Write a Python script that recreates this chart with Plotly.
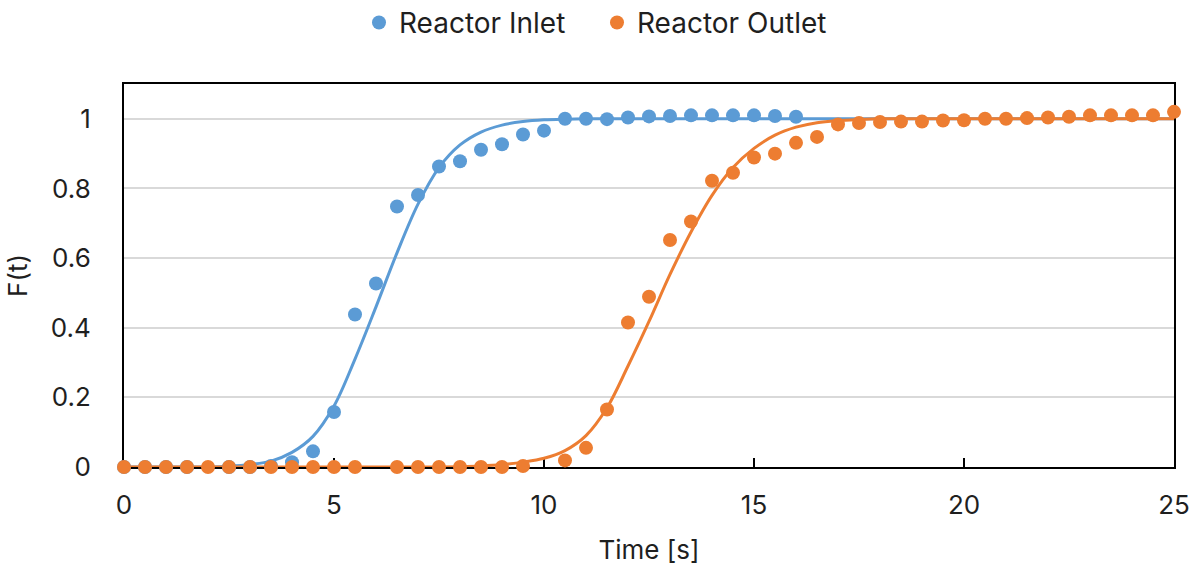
import plotly.graph_objects as go

# Measured tracer response, sampled every 0.5 s
t_inlet = [i * 0.5 for i in range(33)]          # 0 .. 16 s
f_inlet = [0, 0, 0, 0, -0.005, 0, 0, 0.003, 0.014, 0.045,
           0.158, 0.438, 0.527, 0.748, 0.781, 0.863, 0.878, 0.911, 0.927, 0.955,
           0.966, 1.0, 1.0, 0.999, 1.004, 1.007, 1.008, 1.01, 1.01, 1.01,
           1.01, 1.008, 1.006]

t_outlet = [i * 0.5 for i in range(51)]         # 0 .. 25 s
f_outlet = [0, 0, 0, 0, 0, 0, 0, 0, 0, 0,
            0, 0, None, 0, 0, 0, 0, 0, 0, 0.003,
            -0.002, 0.019, 0.055, 0.165, 0.415, 0.489, 0.652, 0.705, 0.822, 0.845,
            0.889, 0.9, 0.931, 0.948, 0.984, 0.988, 0.991, 0.992, 0.992, 0.995,
            0.996, 1.0, 1.0, 1.002, 1.004, 1.006, 1.01, 1.01, 1.01, 1.01,
            1.02]

# Fitted cumulative distribution curves
t_fit = [i * 0.5 for i in range(51)]
fit_inlet = [0, 0, 0, 0, 0, 0.002, 0.007, 0.017, 0.042, 0.088,
             0.175, 0.31, 0.46, 0.615, 0.755, 0.86, 0.925, 0.962, 0.982, 0.992,
             0.997, 0.999, 1.0, 1.0, 1.0, 1.0, 1.0, 1.0, 1.0, 1.0,
             1.0, 1.0, 1.0, 1.0, 1.0, 1.0, 1.0, 1.0, 1.0, 1.0,
             1.0, 1.0, 1.0, 1.0, 1.0, 1.0, 1.0, 1.0, 1.0, 1.0,
             1.0]
fit_outlet = [0, 0, 0, 0, 0, 0, 0, 0, 0, 0,
              0, 0, 0, 0, 0, 0, 0.001, 0.003, 0.007, 0.014,
              0.025, 0.047, 0.09, 0.17, 0.29, 0.418, 0.553, 0.675, 0.78, 0.86,
              0.915, 0.953, 0.976, 0.989, 0.995, 0.998, 1.0, 1.0, 1.0, 1.0,
              1.0, 1.0, 1.0, 1.0, 1.0, 1.0, 1.0, 1.0, 1.0, 1.0,
              1.0]

x_ticks = [0, 5, 10, 15, 20, 25]
y_ticks = [0, 0.2, 0.4, 0.6, 0.8, 1]

BLUE = "#5B9BD5"
ORANGE = "#ED7D31"
FONT = "Inter"
TEXT = "#1f1f1f"

fig = go.Figure()
fig.add_trace(go.Scatter(x=t_fit, y=fit_inlet, mode="lines", line=dict(color=BLUE, width=3, shape="spline"),
                         showlegend=False, hoverinfo="skip", cliponaxis=False))
fig.add_trace(go.Scatter(x=t_fit, y=fit_outlet, mode="lines", line=dict(color=ORANGE, width=3, shape="spline"),
                         showlegend=False, hoverinfo="skip", cliponaxis=False))
fig.add_trace(go.Scatter(x=t_inlet, y=f_inlet, mode="markers", name="Reactor Inlet",
                         marker=dict(color=BLUE, size=14), cliponaxis=False))
fig.add_trace(go.Scatter(x=t_outlet, y=f_outlet, mode="markers", name="Reactor Outlet",
                         marker=dict(color=ORANGE, size=14), cliponaxis=False))

fig.update_layout(
    width=1194, height=569,
    margin=dict(l=124, r=20, t=84, b=102),
    paper_bgcolor="white", plot_bgcolor="white",
    font=dict(family=FONT, size=26, color=TEXT),
    legend=dict(orientation="h", xref="container", x=0.5, xanchor="center",
                yref="container", y=0.96, yanchor="middle",
                font=dict(size=28, color=TEXT), itemwidth=30, tracegroupgap=0,
                entrywidth=193),
    xaxis=dict(range=[0, 25], tickvals=x_ticks, ticktext=[str(v) for v in x_ticks],
               automargin=False,
               showgrid=False, zeroline=False, showline=True, mirror=True,
               linecolor="black", linewidth=2, ticks="inside", ticklen=9, tickwidth=2,
               tickcolor="black", ticklabelstandoff=14, layer="below traces",
               tickfont=dict(size=26),
               title=dict(text="Time [s]", standoff=22, font=dict(size=26))),
    yaxis=dict(range=[0, 1.1], tickvals=y_ticks, ticktext=["0", "0.2", "0.4", "0.6", "0.8", "1"],
               automargin=False,
               showgrid=True, gridcolor="#d9d9d9", gridwidth=1.5, zeroline=False,
               showline=True, mirror=True, linecolor="black", linewidth=2, ticks="",
               ticklabelstandoff=26, layer="below traces", tickfont=dict(size=26),
               title=dict(text="F(t)", standoff=16, font=dict(size=26))),
)

fig.write_html("out.html")
